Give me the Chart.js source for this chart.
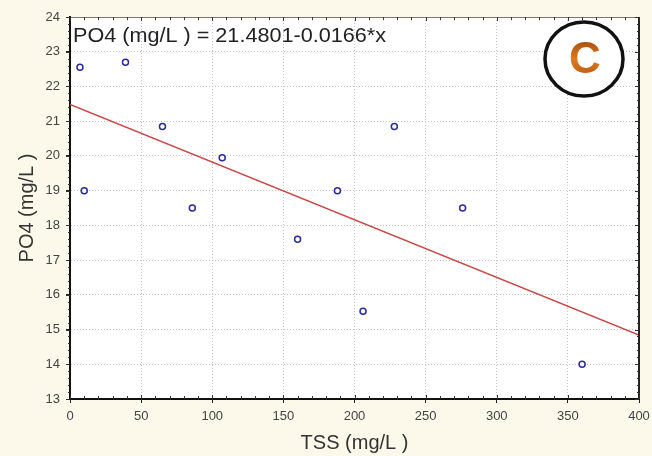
<!DOCTYPE html>
<html><head><meta charset="utf-8">
<script src="https://cdn.jsdelivr.net/npm/chart.js@4/dist/chart.umd.min.js"></script>
<style>
html,body{margin:0;padding:0;background:#fcf8ea;}
#wrap{width:652px;height:456px;position:relative;}
</style></head>
<body><div id="wrap"><canvas id="c" width="652" height="456"></canvas></div>
<script>
const tssValues = [7, 39, 10, 65, 86, 107, 160, 188, 228, 276, 206, 360];
const po4Values = [22.55, 22.7, 19.0, 20.85, 18.5, 19.95, 17.6, 19.0, 20.85, 18.5, 15.53, 14.0];
const fitX = [0, 400];
const fitY = [21.4801, 14.8401];
const xTicks = [0, 50, 100, 150, 200, 250, 300, 350, 400];
const yTicks = [13, 14, 15, 16, 17, 18, 19, 20, 21, 22, 23, 24];
const equationText = 'PO4 (mg/L ) = 21.4801-0.0166*x';
const xTitle = 'TSS (mg/L )';
const yTitle = 'PO4 (mg/L )';
const badgeText = 'C';

const FONT = 'Liberation Sans, Arial, sans-serif';

const framePlugin = {
  id: 'frame',
  beforeDraw(chart) {
    const {ctx, chartArea: a} = chart;
    ctx.save();
    ctx.fillStyle = '#ffffff';
    ctx.fillRect(a.left, a.top, a.right - a.left, a.bottom - a.top);
    ctx.restore();
  },
  afterDatasetsDraw(chart) {
    const {ctx, chartArea: a, scales} = chart;
    const xs = scales.x, ys = scales.y;
    ctx.save();
    ctx.strokeStyle = '#777';
    ctx.lineWidth = 1;
    ctx.beginPath(); ctx.moveTo(a.left, a.top + 0.5); ctx.lineTo(a.right, a.top + 0.5); ctx.stroke();
    ctx.strokeStyle = '#222';
    ctx.lineWidth = 2;
    ctx.beginPath(); ctx.moveTo(a.right, a.top); ctx.lineTo(a.right, a.bottom); ctx.stroke();
    ctx.strokeStyle = '#333';
    ctx.lineWidth = 1;
    for (let v = 0; v <= 400; v += 10) {
      const px = Math.round(xs.getPixelForValue(v)) + 0.5;
      const len = v % 50 === 0 ? 4 : 3;
      ctx.beginPath(); ctx.moveTo(px, a.bottom); ctx.lineTo(px, a.bottom - len); ctx.stroke();
      ctx.beginPath(); ctx.moveTo(px, a.top); ctx.lineTo(px, a.top + len); ctx.stroke();
    }
    for (let i = 0; i <= 55; i++) {
      const v = 13 + i * 0.2;
      const py = Math.round(ys.getPixelForValue(v)) + 0.5;
      const len = i % 5 === 0 ? 4 : 2;
      ctx.beginPath(); ctx.moveTo(a.left, py); ctx.lineTo(a.left - len, py); ctx.stroke();
      ctx.beginPath(); ctx.moveTo(a.right, py); ctx.lineTo(a.right - len, py); ctx.stroke();
    }
    // equation text
    ctx.fillStyle = '#222';
    ctx.font = '20px ' + FONT;
    ctx.textBaseline = 'alphabetic';
    ctx.textAlign = 'left';
    const w = ctx.measureText(equationText).width;
    ctx.save();
    ctx.translate(a.left + 3, a.top + 25);
    ctx.scale(313 / w, 1);
    ctx.fillText(equationText, 0, 0);
    ctx.restore();
    // badge
    const cx = 584, cy = 59;
    ctx.beginPath();
    ctx.ellipse(cx, cy, 39, 37, 0, 0, Math.PI * 2);
    ctx.fillStyle = '#ffffff';
    ctx.fill();
    ctx.lineWidth = 3.5;
    ctx.strokeStyle = '#111';
    ctx.stroke();
    const g = ctx.createLinearGradient(0, cy - 18, 0, cy + 18);
    g.addColorStop(0, '#a84e10');
    g.addColorStop(0.5, '#e07a1c');
    g.addColorStop(1, '#b85a16');
    ctx.fillStyle = g;
    ctx.font = 'bold 44px ' + FONT;
    ctx.textAlign = 'center';
    ctx.textBaseline = 'middle';
    ctx.fillText(badgeText, cx + 1, cy + 2);
    ctx.restore();
  }
};

new Chart(document.getElementById('c'), {
  type: 'scatter',
  data: {
    datasets: [
      {
        type: 'line',
        data: fitX.map((x, i) => ({x: x, y: fitY[i]})),
        borderColor: '#c84848',
        borderWidth: 1.5,
        pointRadius: 0,
        fill: false,
        order: 2
      },
      {
        data: tssValues.map((x, i) => ({x: x, y: po4Values[i]})),
        pointStyle: 'circle',
        pointRadius: 3,
        pointBorderWidth: 1.5,
        borderColor: '#2a2a9a',
        backgroundColor: '#ffffff',
        order: 1
      }
    ]
  },
  plugins: [framePlugin],
  options: {
    responsive: false,
    animation: false,
    devicePixelRatio: 1,
    layout: {padding: {top: 17, right: 13, bottom: 0, left: 0}},
    plugins: {legend: {display: false}, tooltip: {enabled: false}},
    scales: {
      x: {
        type: 'linear', min: 0, max: 400,
        afterBuildTicks(s) { s.ticks = xTicks.map(v => ({value: v})); },
        afterFit(s) { s.height = 57; s.paddingLeft = 0; s.paddingRight = 0; },
        ticks: {color: '#444', font: {family: FONT, size: 13}, padding: 6, maxRotation: 0},
        grid: {color: '#c4c4c4', lineWidth: 1, tickLength: 4, tickColor: '#222', drawTicks: true},
        border: {color: '#111', width: 2, dash: [1, 2]},
        title: {display: true, text: xTitle, color: '#333', font: {family: FONT, size: 20}, padding: {top: 0, bottom: 1}}
      },
      y: {
        type: 'linear', min: 13, max: 24,
        afterBuildTicks(s) { s.ticks = yTicks.map(v => ({value: v})); },
        afterFit(s) { s.width = 70; s.paddingTop = 0; s.paddingBottom = 0; },
        ticks: {color: '#444', font: {family: FONT, size: 13}, padding: 6},
        grid: {color: '#c4c4c4', lineWidth: 1, tickLength: 4, tickColor: '#222', drawTicks: true},
        border: {color: '#111', width: 2, dash: [1, 2]},
        title: {display: true, text: yTitle, color: '#333', font: {family: FONT, size: 20}, padding: {top: 15, bottom: 0}}
      }
    }
  }
});
</script></body></html>
